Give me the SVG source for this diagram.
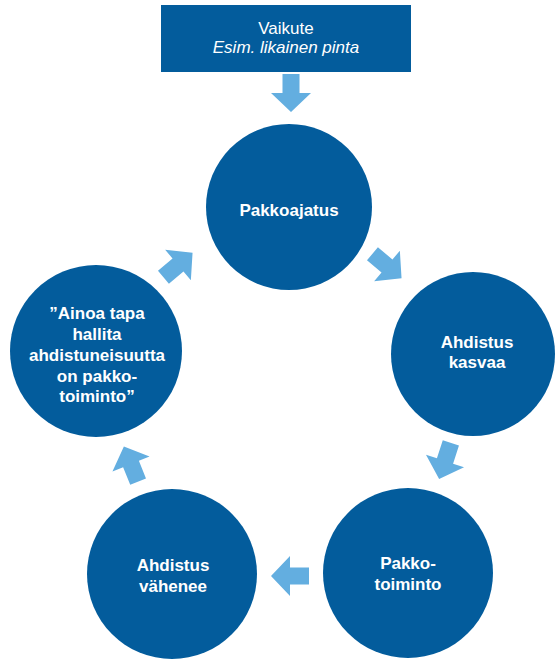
<svg xmlns="http://www.w3.org/2000/svg" width="555" height="659" viewBox="0 0 555 659">
<style>
.node{fill:#035c9c}
.t{font-family:"Liberation Sans",Arial,sans-serif;font-size:17px;font-weight:bold;fill:#ffffff;text-anchor:middle}
.h{font-family:"Liberation Sans",Arial,sans-serif;font-size:17px;fill:#ffffff;text-anchor:middle}
.arr{fill:#63aee0}
</style>
<defs>
<polygon id="arrow" points="-19,-8.5 0,-8.5 0,-20 19,0 0,20 0,8.5 -19,8.5"/>
</defs>
<rect width="555" height="659" fill="#ffffff"/>
<g id="vaikute">
<rect class="node" x="161" y="5" width="250" height="67"/>
<text class="h" x="286" y="34">Vaikute</text>
<text class="h" x="286" y="53" font-style="italic">Esim. likainen pinta</text>
</g>
<g id="pakkoajatus">
<circle class="node" cx="289" cy="207" r="83"/>
<text class="t" x="289" y="216">Pakkoajatus</text>
</g>
<g id="ahdistus-kasvaa">
<circle class="node" cx="473" cy="354" r="82"/>
<text class="t" x="477" y="348">Ahdistus</text>
<text class="t" x="477" y="368">kasvaa</text>
</g>
<g id="pakkotoiminto">
<circle class="node" cx="408" cy="573" r="85"/>
<text class="t" x="408" y="569">Pakko-</text>
<text class="t" x="408" y="590">toiminto</text>
</g>
<g id="ahdistus-vahenee">
<circle class="node" cx="172" cy="574" r="85"/>
<text class="t" x="173" y="571">Ahdistus</text>
<text class="t" x="173" y="592">vähenee</text>
</g>
<g id="ainoa-tapa">
<circle class="node" cx="96" cy="351" r="86"/>
<text class="t" x="97" y="319">”Ainoa tapa</text>
<text class="t" x="97" y="340">hallita</text>
<text class="t" x="97" y="361">ahdistuneisuutta</text>
<text class="t" x="97" y="382">on pakko-</text>
<text class="t" x="97" y="402">toiminto”</text>
</g>
<g id="connectors" class="arr">
<use href="#arrow" transform="translate(291,93) rotate(90)"/>
<use href="#arrow" transform="translate(387,266) rotate(40)"/>
<use href="#arrow" transform="translate(445,461) rotate(108)"/>
<use href="#arrow" transform="translate(290,576) rotate(180)"/>
<use href="#arrow" transform="translate(131,464) rotate(-112)"/>
<use href="#arrow" transform="translate(178,265) rotate(-40)"/>
</g>
</svg>
